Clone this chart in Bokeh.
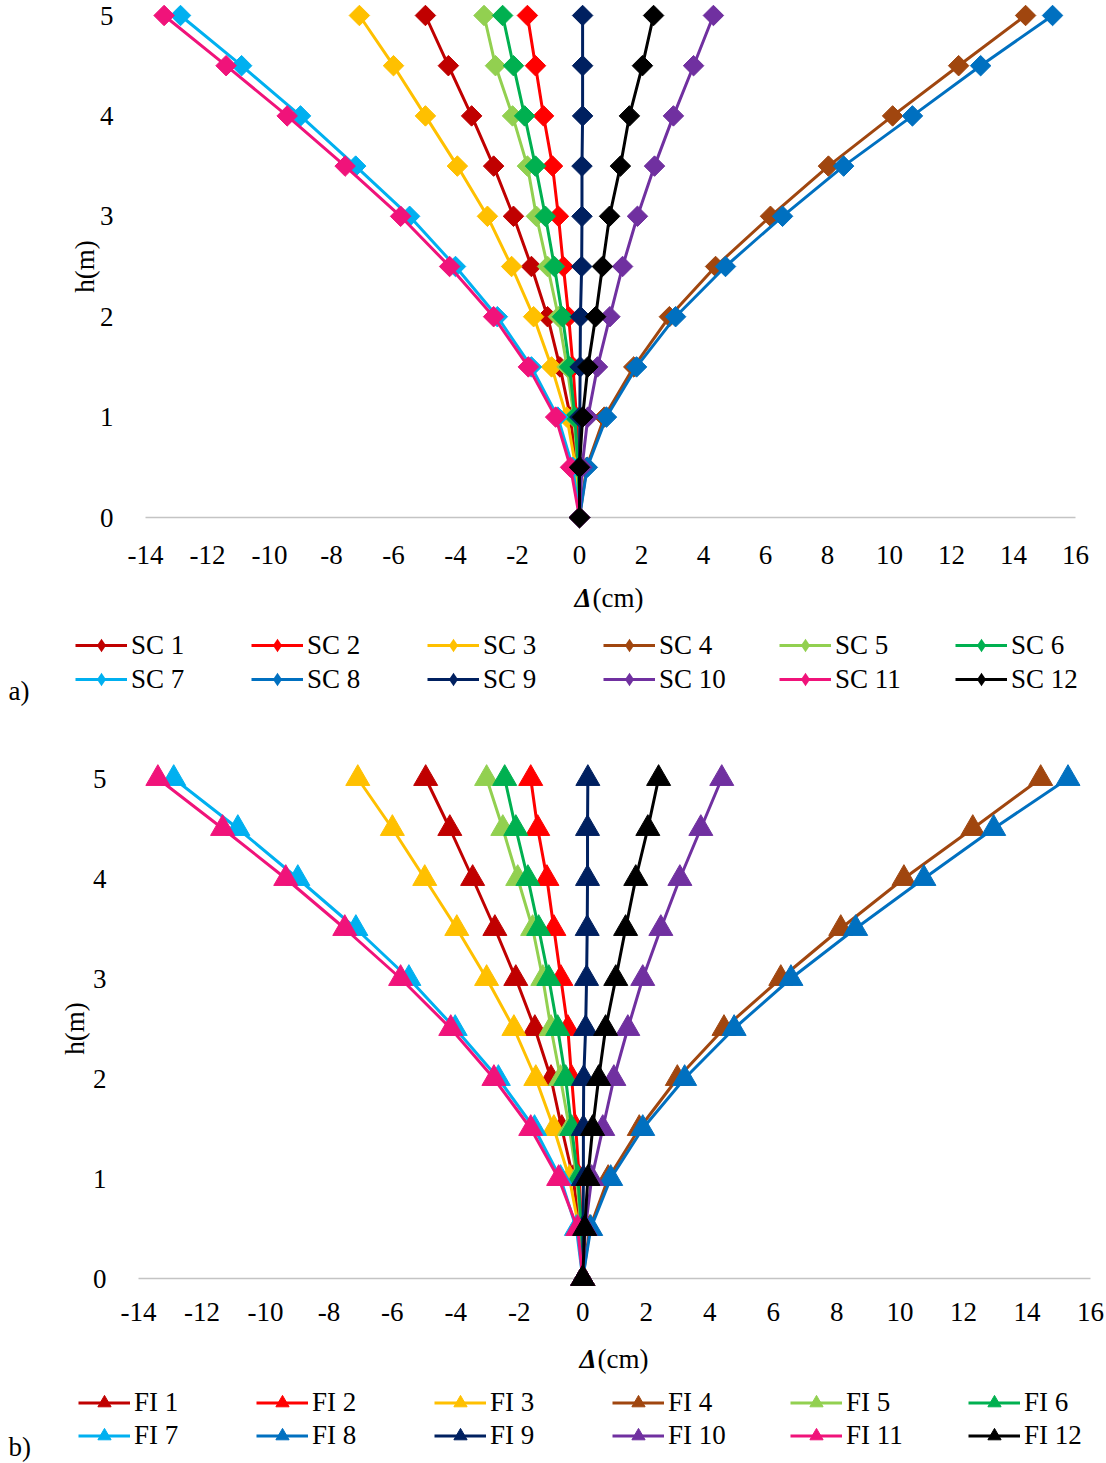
import numpy as np
from bokeh.plotting import figure
from bokeh.models import (Legend, LegendItem, Label, FixedTicker, Range1d,
                          ColumnDataSource)
from bokeh.layouts import column
from bokeh.embed import file_html
from bokeh.resources import INLINE

# ---------------- data ----------------
H = [0, 0.5, 1, 1.5, 2, 2.5, 3, 3.5, 4, 4.5, 5]

SC1 = [0, -0.10, -0.29, -0.63, -1.03, -1.55, -2.13, -2.77, -3.48, -4.23, -4.97]
SC2 = [0, -0.04, -0.10, -0.21, -0.35, -0.52, -0.68, -0.87, -1.16, -1.42, -1.68]
SC3 = [0, -0.12, -0.41, -0.90, -1.48, -2.19, -2.97, -3.94, -4.97, -6.00, -7.10]
SC4 = [0, 0.23, 0.80, 1.75, 2.90, 4.39, 6.16, 8.03, 10.10, 12.23, 14.39]
SC5 = [0, -0.05, -0.18, -0.40, -0.68, -1.03, -1.39, -1.68, -2.16, -2.71, -3.08]
SC6 = [0, -0.04, -0.15, -0.32, -0.55, -0.81, -1.10, -1.42, -1.77, -2.13, -2.48]
SC7 = [0, -0.22, -0.70, -1.55, -2.65, -4.00, -5.48, -7.22, -9.00, -10.90, -12.87]
SC8 = [0, 0.25, 0.87, 1.84, 3.10, 4.71, 6.55, 8.52, 10.74, 12.94, 15.26]
SC9 = [0, 0.00, 0.01, 0.02, 0.03, 0.07, 0.08, 0.08, 0.10, 0.10, 0.10]
SC10 = [0, 0.08, 0.27, 0.58, 0.98, 1.39, 1.87, 2.42, 3.03, 3.68, 4.32]
SC11 = [0, -0.29, -0.77, -1.65, -2.77, -4.19, -5.77, -7.56, -9.43, -11.40, -13.40]
SC12 = [0, 0.00, 0.10, 0.27, 0.52, 0.74, 0.97, 1.32, 1.61, 2.03, 2.39]

FI1 = [0, -0.10, -0.30, -0.66, -1.00, -1.51, -2.11, -2.77, -3.47, -4.19, -4.95]
FI2 = [0, -0.04, -0.11, -0.22, -0.35, -0.47, -0.69, -0.91, -1.13, -1.42, -1.64]
FI3 = [0, -0.12, -0.42, -0.91, -1.48, -2.17, -3.03, -3.97, -4.98, -6.00, -7.09]
FI4 = [0, 0.22, 0.80, 1.78, 2.98, 4.45, 6.24, 8.13, 10.12, 12.29, 14.43]
FI5 = [0, -0.05, -0.19, -0.42, -0.70, -1.00, -1.26, -1.58, -2.05, -2.52, -3.03]
FI6 = [0, -0.04, -0.15, -0.35, -0.54, -0.79, -1.07, -1.39, -1.73, -2.11, -2.46]
FI7 = [0, -0.20, -0.70, -1.52, -2.66, -4.02, -5.48, -7.15, -8.98, -10.87, -12.89]
FI8 = [0, 0.25, 0.88, 1.89, 3.21, 4.77, 6.56, 8.60, 10.75, 12.95, 15.29]
FI9 = [0, 0.01, 0.02, 0.02, 0.03, 0.09, 0.12, 0.14, 0.15, 0.15, 0.16]
FI10 = [0, 0.08, 0.28, 0.63, 0.98, 1.42, 1.89, 2.46, 3.06, 3.72, 4.38]
FI11 = [0, -0.16, -0.76, -1.64, -2.80, -4.16, -5.74, -7.50, -9.36, -11.35, -13.39]
FI12 = [0, 0.06, 0.16, 0.31, 0.50, 0.72, 1.04, 1.35, 1.67, 2.05, 2.39]

SC_NAMES = ["SC 1", "SC 2", "SC 3", "SC 4", "SC 5", "SC 6",
            "SC 7", "SC 8", "SC 9", "SC 10", "SC 11", "SC 12"]
FI_NAMES = ["FI 1", "FI 2", "FI 3", "FI 4", "FI 5", "FI 6",
            "FI 7", "FI 8", "FI 9", "FI 10", "FI 11", "FI 12"]
SC_SERIES = [SC1, SC2, SC3, SC4, SC5, SC6, SC7, SC8, SC9, SC10, SC11, SC12]
FI_SERIES = [FI1, FI2, FI3, FI4, FI5, FI6, FI7, FI8, FI9, FI10, FI11, FI12]

COLORS = ["#C00000", "#FF0000", "#FFC000", "#A0460F", "#92D050", "#00B050",
          "#00B0F0", "#0070C0", "#002060", "#7030A0", "#F0137A", "#000000"]

X_TICKS = list(range(-14, 17, 2))
X_LABELS = {t: str(t) for t in X_TICKS}          # hyphen-minus, as in the original
Y_TICKS = [0, 1, 2, 3, 4, 5]
X_MIN, X_MAX = -14, 16
Y_MIN, Y_MAX = 0, 5

FONT = "Liberation Serif"
FS = "27px"
W = 1106


def ranges(px_min, px_max, py_max, py_min, height):
    """data ranges so that the axis extremes land on given pixels"""
    sx = (px_max - px_min) / (X_MAX - X_MIN)
    sy = (py_min - py_max) / (Y_MAX - Y_MIN)
    xr = Range1d(X_MIN - px_min / sx, X_MAX + (W - px_max) / sx)
    yr = Range1d(Y_MIN - (height - py_min) / sy, Y_MAX + py_max / sy)
    return xr, yr


def make_panel(series, names, marker, msize, angle, legend_marker, height,
               anchors, xstandoff, ystandoff, ylab_standoff, leg_loc,
               leg_h, leg_lw, dlab, tag, tag_pos):
    xr, yr = ranges(*anchors, height)
    p = figure(width=W, height=height, x_range=xr, y_range=yr,
               output_backend="svg", toolbar_location=None,
               min_border_left=0, min_border_right=0,
               min_border_top=0, min_border_bottom=0)
    p.outline_line_color = None
    p.xgrid.visible = False
    p.ygrid.visible = False
    p.background_fill_color = "white"
    p.border_fill_color = "white"

    items = []
    for vals, name, col in zip(series, names, COLORS):
        src = ColumnDataSource(dict(x=vals, y=H))
        lr = p.line("x", "y", source=src, line_color=col, line_width=3)
        sr = p.scatter("x", "y", source=src, marker=marker, size=msize,
                       angle=angle, fill_color=col, line_color=col, line_width=1)
        if legend_marker != marker:
            # legend swatch only: zero-size points leave no mark in the plot
            sr = p.scatter("x", "y", source=src, marker=legend_marker, size=0,
                           fill_color=col, line_color=col, line_width=0)
        items.append(LegendItem(label=name, renderers=[lr, sr]))

    # x axis drawn at h = 0 (gray axis line between -14 and 16)
    xa = p.xaxis[0]
    xa.fixed_location = 0
    xa.bounds = (X_MIN, X_MAX)
    xa.level = "underlay"
    xa.ticker = FixedTicker(ticks=X_TICKS)
    xa.major_label_overrides = X_LABELS
    xa.axis_line_color = "#c4c4c4"
    xa.axis_line_width = 1.5
    xa.major_tick_line_color = None
    xa.minor_tick_line_color = None
    xa.major_label_standoff = xstandoff
    xa.major_label_text_font = FONT
    xa.major_label_text_font_size = FS
    xa.major_label_text_color = "black"

    ya = p.yaxis[0]
    ya.fixed_location = X_MIN
    ya.bounds = (Y_MIN, Y_MAX)
    ya.ticker = FixedTicker(ticks=Y_TICKS)
    ya.axis_line_color = None
    ya.major_tick_line_color = None
    ya.minor_tick_line_color = None
    ya.major_label_standoff = ystandoff
    ya.major_label_text_font = FONT
    ya.major_label_text_font_size = FS
    ya.major_label_text_color = "black"
    ya.axis_label = "h(m)"
    ya.axis_label_standoff = ylab_standoff
    ya.axis_label_text_font = FONT
    ya.axis_label_text_font_size = FS
    ya.axis_label_text_font_style = "normal"
    ya.axis_label_text_color = "black"

    # x axis title: bold-italic delta + regular (cm)
    dx, dy = dlab
    p.add_layout(Label(x=dx, y=dy, x_units="screen", y_units="screen",
                       text="Δ", text_font=FONT, text_font_size=FS,
                       text_font_style="bold italic", text_align="right",
                       text_baseline="middle", text_color="black"))
    p.add_layout(Label(x=dx + 1, y=dy, x_units="screen", y_units="screen",
                       text="(cm)", text_font=FONT, text_font_size=FS,
                       text_font_style="normal", text_align="left",
                       text_baseline="middle", text_color="black"))
    # panel tag
    tx, ty = tag_pos
    p.add_layout(Label(x=tx, y=ty, x_units="screen", y_units="screen",
                       text=tag, text_font=FONT, text_font_size=FS,
                       text_align="left", text_baseline="middle",
                       text_color="black"))

    legend = Legend(items=items, location=leg_loc, orientation="horizontal",
                    ncols=6, glyph_width=52, glyph_height=leg_h,
                    label_height=leg_h, label_width=leg_lw, label_standoff=4,
                    spacing=0, padding=0, margin=0, border_line_color=None,
                    background_fill_alpha=0, label_text_font=FONT,
                    label_text_font_size=FS, label_text_color="black")
    p.add_layout(legend)
    return p


H1, H2 = 740, 723
p1 = make_panel(SC_SERIES, SC_NAMES, "square", 14.5, np.pi / 4, "diamond", H1,
                (145, 1075, 15, 517), 22, 26, -3,
                (75, 44), 34, 120, (591, 143), "a)", (8, 50))
p2 = make_panel(FI_SERIES, FI_NAMES, "triangle", 24, 0, "triangle", H2,
                (138, 1090, 38, 538), 18, 26, 0,
                (78, 11), 33, 122, (596, 105), "b)", (8, 17))

layout = column(p1, p2, spacing=0)
open("out.html", "w").write(file_html(layout, INLINE))
